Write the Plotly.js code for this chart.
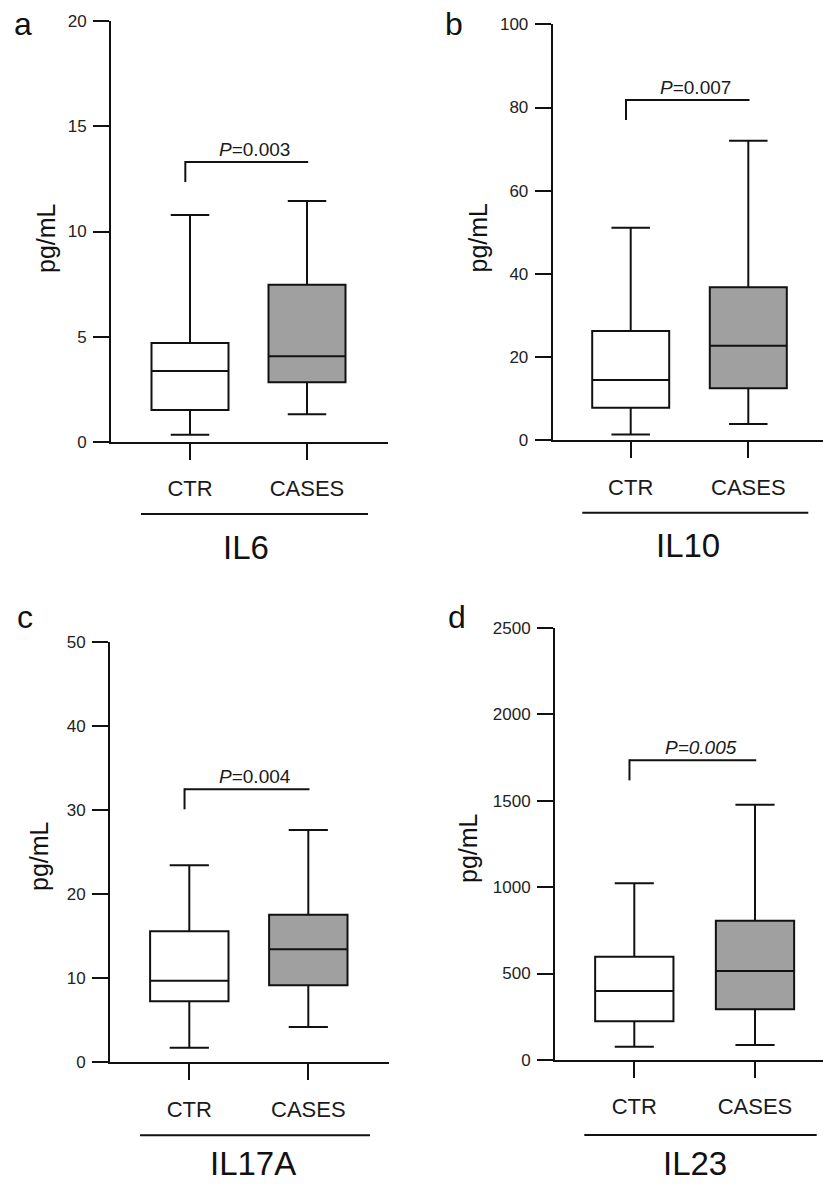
<!DOCTYPE html>
<html>
<head>
<meta charset="utf-8">
<script src="https://cdn.plot.ly/plotly-3.0.1.min.js"></script>
<style>html,body{margin:0;padding:0;background:#fff;}#chart{width:823px;height:1184px;}</style>
</head>
<body>
<div id="chart"></div>
<script>
// ---------- data ----------
const groups = ['CTR', 'CASES'];
const cytokines = ['IL6', 'IL10', 'IL17A', 'IL23'];
const panelLetters = ['a', 'b', 'c', 'd'];
const yMax = [20, 100, 50, 2500];
const yStep = [5, 20, 10, 500];

const ctrMin    = [0.35, 1.4, 1.74, 77];
const ctrQ1     = [1.52, 7.8, 7.26, 224];
const ctrMedian = [3.37, 14.5, 9.7, 399];
const ctrQ3     = [4.70, 26.3, 15.6, 597];
const ctrMax    = [10.78, 51.1, 23.45, 1022];

const casesMin    = [1.32, 3.9, 4.2, 87];
const casesQ1     = [2.84, 12.5, 9.17, 293];
const casesMedian = [4.07, 22.7, 13.45, 515];
const casesQ3     = [7.47, 36.8, 17.57, 806];
const casesMax    = [11.45, 72.0, 27.65, 1476];

const pValues = ['0.003', '0.007', '0.004', '0.005'];
const pAllItalic = [false, false, false, true];
const bracketY = [13.3, 81.8, 32.5, 1733];

// ---------- layout geometry (pixels) ----------
const W = 823, H = 1184;
const px = x => x / W;
const py = y => 1 - y / H;
const FONT = 'Arial, "Liberation Sans", Helvetica, sans-serif';
const INK = '#111111';

const geo = [
  {yl: 111,   xr: 388, top: 21,    bot: 442,    ctr: 190,   cases: 307,   boxW: 77,
   line: [141, 368, 514],     label: [246, 547],   yt: [46, 238],   letter: [23, 23.5]},
  {yl: 552.7, xr: 823, top: 24.3,  bot: 440.3,  ctr: 630.7, cases: 748.3, boxW: 77,
   line: [582.3, 808.3, 512.7], label: [688, 545], yt: [477.5, 238], letter: [453.5, 23.5]},
  {yl: 110,   xr: 389.3, top: 642.3, bot: 1062.3, ctr: 189.3, cases: 308.3, boxW: 78.4,
   line: [140, 370, 1135.3],  label: [253, 1163],  yt: [39, 856],   letter: [25, 616.5]},
  {yl: 555,   xr: 823, top: 627.7, bot: 1060,   ctr: 634.3, cases: 755,   boxW: 78.3,
   line: [584.3, 816.7, 1135], label: [694.5, 1163], yt: [468, 848], letter: [456.5, 616.5]}
];

const traces = [];
const layout = {
  width: W, height: H,
  margin: {l: 0, r: 0, t: 0, b: 0},
  paper_bgcolor: '#ffffff', plot_bgcolor: 'rgba(0,0,0,0)',
  showlegend: false,
  font: {family: FONT, color: INK},
  boxmode: 'overlay',
  shapes: [], annotations: []
};

cytokines.forEach((name, i) => {
  const g = geo[i];
  const n = i === 0 ? '' : String(i + 1);
  const xa = 'x' + n, ya = 'y' + n;
  const s = g.cases - g.ctr;
  const bw = g.boxW / s;
  const pxPerUnit = (g.bot - g.top) / yMax[i];

  const common = {
    type: 'box', xaxis: xa, yaxis: ya, width: bw, whiskerwidth: 0.5,
    boxpoints: false, hoverinfo: 'skip',
    line: {color: INK, width: 2}
  };
  traces.push(Object.assign({}, common, {
    name: groups[0], x: [groups[0]],
    q1: [ctrQ1[i]], median: [ctrMedian[i]], q3: [ctrQ3[i]],
    lowerfence: [ctrMin[i]], upperfence: [ctrMax[i]],
    fillcolor: '#ffffff'
  }));
  traces.push(Object.assign({}, common, {
    name: groups[1], x: [groups[1]],
    q1: [casesQ1[i]], median: [casesMedian[i]], q3: [casesQ3[i]],
    lowerfence: [casesMin[i]], upperfence: [casesMax[i]],
    fillcolor: '#a0a0a0'
  }));

  layout['xaxis' + n] = {
    domain: [px(g.yl), px(g.xr)], anchor: ya,
    type: 'category', categoryorder: 'array', categoryarray: groups,
    range: [(g.yl - g.ctr) / s, (g.xr - g.ctr) / s],
    showline: true, linecolor: INK, linewidth: 2,
    ticks: 'outside', ticklen: 16, tickwidth: 2, tickcolor: INK,
    showgrid: false, zeroline: false, fixedrange: true,
    tickfont: {family: FONT, size: 22, color: '#1a1a1a'},
    ticklabelstandoff: 10
  };
  layout['yaxis' + n] = {
    domain: [py(g.bot), py(g.top)], anchor: xa,
    range: [0, yMax[i]], dtick: yStep[i], tick0: 0,
    showline: true, linecolor: INK, linewidth: 2,
    ticks: 'outside', ticklen: 16, tickwidth: 2, tickcolor: INK,
    showgrid: false, zeroline: false, fixedrange: true,
    tickfont: {family: FONT, size: 17, color: '#222222'},
    ticklabelstandoff: 3
  };

  // significance bracket
  const legBottom = bracketY[i] - 20 / pxPerUnit;
  layout.shapes.push({type: 'line', xref: xa, yref: ya, x0: -0.04, x1: 1.01,
    y0: bracketY[i], y1: bracketY[i], line: {color: INK, width: 2}});
  layout.shapes.push({type: 'line', xref: xa, yref: ya, x0: -0.04, x1: -0.04,
    y0: legBottom, y1: bracketY[i] + 1 / pxPerUnit, line: {color: INK, width: 2}});
  const ptxt = pAllItalic[i] ? '<i>P=' + pValues[i] + '</i>' : '<i>P</i>=' + pValues[i];
  layout.annotations.push({xref: xa, yref: ya, x: 0.55, y: bracketY[i], yshift: 13,
    text: ptxt, showarrow: false, xanchor: 'center', yanchor: 'middle',
    font: {family: FONT, size: 19, color: '#1a1a1a'}});

  // group underline and cytokine name
  layout.shapes.push({type: 'line', xref: 'paper', yref: 'paper',
    x0: px(g.line[0]), x1: px(g.line[1]), y0: py(g.line[2]), y1: py(g.line[2]),
    line: {color: INK, width: 2}});
  layout.annotations.push({xref: 'paper', yref: 'paper', x: px(g.label[0]), y: py(g.label[1]),
    text: name, showarrow: false, xanchor: 'center', yanchor: 'middle',
    font: {family: FONT, size: 33, color: '#111111'}});

  // y title
  layout.annotations.push({xref: 'paper', yref: 'paper', x: px(g.yt[0]), y: py(g.yt[1]),
    text: 'pg/mL', textangle: -90, showarrow: false, xanchor: 'center', yanchor: 'middle',
    font: {family: FONT, size: 25, color: '#111111'}});

  // panel letter
  layout.annotations.push({xref: 'paper', yref: 'paper', x: px(g.letter[0]), y: py(g.letter[1]),
    text: panelLetters[i], showarrow: false, xanchor: 'center', yanchor: 'middle',
    font: {family: FONT, size: 32, color: '#111111'}});
});

Plotly.newPlot('chart', traces, layout, {staticPlot: true, displayModeBar: false});
</script>
</body>
</html>
